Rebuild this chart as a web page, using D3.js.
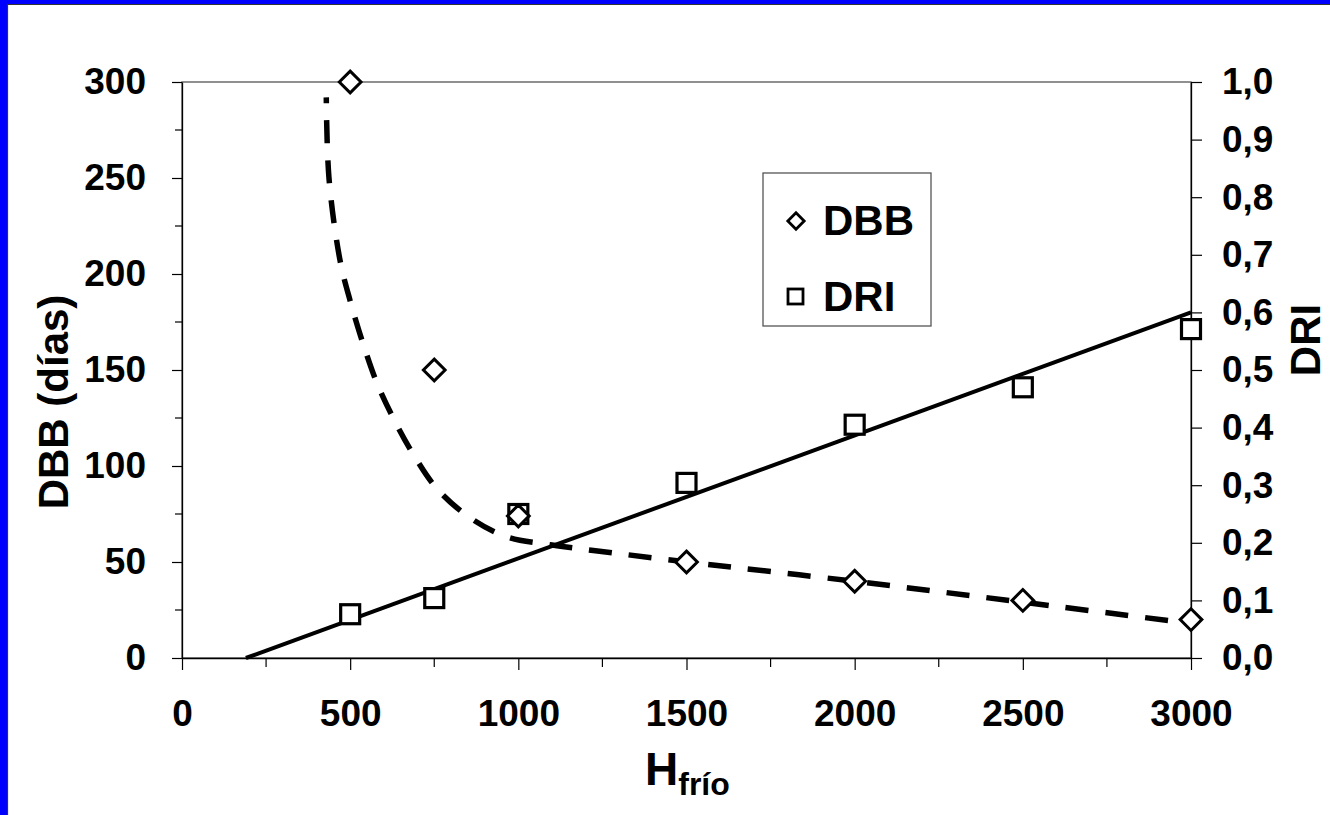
<!DOCTYPE html>
<html>
<head>
<meta charset="utf-8">
<script src="https://cdn.jsdelivr.net/npm/d3@7/dist/d3.min.js"></script>
<style>
  body { margin: 0; background: #fff; }
  text { font-family: "Liberation Sans", Arial, sans-serif; font-weight: bold; fill: #000; }
</style>
</head>
<body>
<div id="myGraph"></div>
<script>
// horas de frío
var hfrio = [500, 750, 1000, 1500, 2000, 2500, 3000];
// días a brotación (eje izq.)
var dbb = [300, 150, 74, 50, 40, 30, 20];
// DRI (eje der.)
var dri = [0.076, 0.104, 0.25, 0.304, 0.405, 0.47, 0.571];

// curva punteada
var curveX = [429, 437, 470, 500, 536, 580, 628, 688, 759, 857, 967, 1095, 1223, 1503, 1997, 2503, 3000];
var curveDBB = [292, 250, 207, 186, 165, 143, 125, 106, 88, 73, 63, 59, 56, 50, 40, 29, 18];

// recta de tendencia DRI
var trendX = [190, 3000];
var trendDRI = [0, 0.6];

var xTicks = [0, 500, 1000, 1500, 2000, 2500, 3000];
var yLeftTicks = [0, 50, 100, 150, 200, 250, 300];
var yRightTicks = [0, 0.1, 0.2, 0.3, 0.4, 0.5, 0.6, 0.7, 0.8, 0.9, 1.0];

var W = 1330, H = 815;
var plot = { left: 182, right: 1191, top: 82, bottom: 658 };

var svg = d3.select('#myGraph').append('svg')
    .attr('width', W).attr('height', H);

// marco azul (sólo arriba e izquierda)
svg.append('rect').attr('x', 0).attr('y', 0).attr('width', W).attr('height', 4).style('fill', '#0000ff');
svg.append('rect').attr('x', 0).attr('y', 0).attr('width', 7).attr('height', H).style('fill', '#0000ff');
svg.append('line').attr('x1', 7).attr('x2', W).attr('y1', 4.5).attr('y2', 4.5).style('stroke', '#333').style('stroke-width', 1.2);
svg.append('line').attr('x1', 7.5).attr('x2', 7.5).attr('y1', 4).attr('y2', H).style('stroke', '#333').style('stroke-width', 1.2);

var x = d3.scaleLinear().domain([0, 3000]).range([plot.left, plot.right]);
var yL = d3.scaleLinear().domain([0, 300]).range([plot.bottom, plot.top]);
var yR = d3.scaleLinear().domain([0, 1]).range([plot.bottom, plot.top]);

// borde del área de trazado
svg.append('rect')
    .attr('x', plot.left).attr('y', plot.top)
    .attr('width', plot.right - plot.left).attr('height', plot.bottom - plot.top)
    .style('fill', 'none').style('stroke', '#555').style('stroke-width', 1.3);

var comma = function (v) { return d3.format('.1f')(v).replace('.', ','); };

// ticks menores
svg.append('g').selectAll('line').data(d3.range(25, 300, 50)).enter().append('line')
    .attr('x1', plot.left - 7).attr('x2', plot.left)
    .attr('y1', d => yL(d)).attr('y2', d => yL(d))
    .style('stroke', '#000').style('stroke-width', 1.2);
svg.append('g').selectAll('line').data(d3.range(250, 3000, 500)).enter().append('line')
    .attr('x1', d => x(d)).attr('x2', d => x(d))
    .attr('y1', plot.bottom).attr('y2', plot.bottom + 9)
    .style('stroke', '#000').style('stroke-width', 1.2);

var xAxis = svg.append('g').attr('transform', 'translate(0,' + plot.bottom + ')')
    .call(d3.axisBottom(x).tickValues(xTicks).tickSize(12).tickSizeOuter(0).tickPadding(30).tickFormat(d3.format('d')));
var yAxisL = svg.append('g').attr('transform', 'translate(' + plot.left + ',0)')
    .call(d3.axisLeft(yL).tickValues(yLeftTicks).tickSize(10).tickSizeOuter(0).tickPadding(26));
var yAxisR = svg.append('g').attr('transform', 'translate(' + plot.right + ',0)')
    .call(d3.axisRight(yR).tickValues(yRightTicks).tickSize(11).tickSizeOuter(0).tickPadding(20).tickFormat(comma));

[xAxis, yAxisL, yAxisR].forEach(function (g) {
    g.select('.domain').style('stroke', '#000').style('stroke-width', 1.3);
    g.selectAll('.tick line').style('stroke', '#000').style('stroke-width', 1.2);
    g.selectAll('.tick text').attr('font-size', 37).style('font-family', '"Liberation Sans", Arial, sans-serif')
        .style('font-weight', 'bold').attr('fill', '#000');
});

// recta DRI
var trendPts = trendX.map((v, i) => [x(v), yR(trendDRI[i])]);
svg.append('path').attr('d', d3.line()(trendPts))
    .style('fill', 'none').style('stroke', '#000').style('stroke-width', 4);

// curva DBB punteada
var curvePts = curveX.map((v, i) => [x(v), yL(curveDBB[i])]);
svg.append('path').attr('d', d3.line().curve(d3.curveCatmullRom)(curvePts))
    .style('fill', 'none').style('stroke', '#000').style('stroke-width', 5.5)
    .style('stroke-dasharray', '23,17').style('stroke-dashoffset', 17);

// puntos DRI (cuadrados)
var sq = 19;
svg.append('g').selectAll('rect').data(hfrio).enter().append('rect')
    .attr('x', (d) => x(d) - sq / 2)
    .attr('y', (d, i) => yR(dri[i]) - sq / 2)
    .attr('width', sq).attr('height', sq)
    .style('fill', '#fff').style('stroke', '#000').style('stroke-width', 3.2);

// puntos DBB (rombos)
var diamond = d3.symbol().type(d3.symbolDiamond2).size(300);
svg.append('g').selectAll('path').data(hfrio).enter().append('path')
    .attr('d', diamond)
    .attr('transform', (d, i) => 'translate(' + x(d) + ',' + yL(dbb[i]) + ')')
    .style('fill', '#fff').style('stroke', '#000').style('stroke-width', 3);

// leyenda
var lg = svg.append('g');
lg.append('rect').attr('x', 763).attr('y', 173).attr('width', 168).attr('height', 153)
    .style('fill', '#fff').style('stroke', '#555').style('stroke-width', 1.3);
lg.append('path').attr('d', d3.symbol().type(d3.symbolDiamond2).size(170))
    .attr('transform', 'translate(796,221)')
    .style('fill', '#fff').style('stroke', '#000').style('stroke-width', 2.8);
lg.append('rect').attr('x', 788).attr('y', 289).attr('width', 15).attr('height', 15)
    .style('fill', '#fff').style('stroke', '#000').style('stroke-width', 2.8);
lg.append('text').attr('x', 823).attr('y', 235).attr('font-size', 42).text('DBB');
lg.append('text').attr('x', 823).attr('y', 311).attr('font-size', 42).text('DRI');

// títulos de ejes
svg.append('text').attr('transform', 'translate(68,402) rotate(-90)')
    .attr('text-anchor', 'middle').attr('font-size', 42).text('DBB (días)');
svg.append('text').attr('transform', 'translate(1320,340) rotate(-90)')
    .attr('text-anchor', 'middle').attr('font-size', 42).text('DRI');

var xt = svg.append('text').attr('x', 645).attr('y', 785).attr('font-size', 46);
xt.append('tspan').text('H');
xt.append('tspan').attr('font-size', 32).attr('dy', 10).text('frío');
</script>
</body>
</html>
